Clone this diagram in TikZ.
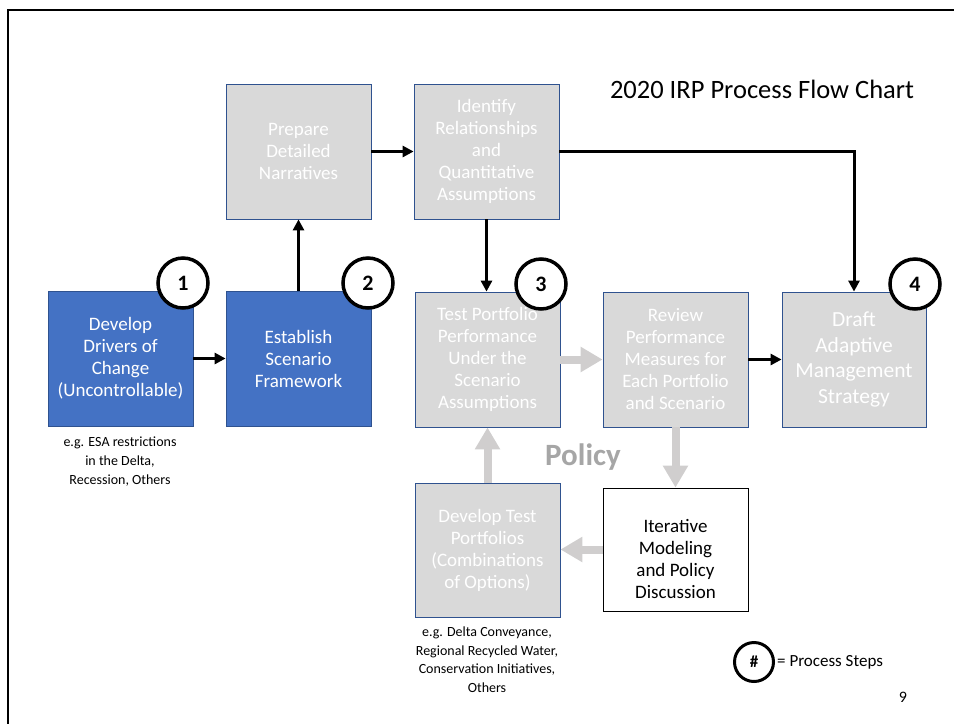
\documentclass[tikz,border=0pt]{standalone}
\usepackage{fontspec}
\setmainfont{Carlito}
\usetikzlibrary{arrows.meta}
\definecolor{boxblue}{HTML}{4472C4}
\definecolor{boxedge}{HTML}{2F528F}
\definecolor{boxgray}{HTML}{D9D9D9}
\definecolor{flowgray}{HTML}{D0CECE}
\definecolor{policygray}{HTML}{A6A6A6}
\begin{document}
\begin{tikzpicture}[x=1pt,y=-1pt,
  stepbox/.style={draw=boxedge, line width=0.8pt, minimum width=145pt, minimum height=135pt, align=center, inner sep=2pt, font=\fontsize{19}{22}\selectfont},
  bluebox/.style={stepbox, fill=boxblue, text=white},
  graybox/.style={stepbox, fill=boxgray, text=white},
  stepnum/.style={circle, draw, line width=3.5pt, fill=white, minimum size=50pt, inner sep=0pt, font=\bfseries\fontsize{22}{22}\selectfont},
  notetext/.style={align=center, font=\fontsize{14}{19}\selectfont},
  flow/.style={line width=3pt, -{Triangle[length=11pt,width=11pt]}},
  grayflow/.style={draw=flowgray, line width=8pt, -{Triangle[length=22pt,width=24pt]}}]
\useasboundingbox (0,0) rectangle (954,724);
\draw[line width=2pt] (954,10) -- (8,10) -- (8,724);

\node[font=\fontsize{26.5}{30}\selectfont] (title) at (762,89) {2020 IRP Process Flow Chart};

\node[bluebox] (drivers) at (120.5,358.5) {Develop\\Drivers of\\Change\\(Uncontrollable)};
\node[bluebox] (framework) at (298.5,358.5) {Establish\\Scenario\\Framework};
\node[graybox] (narratives) at (298.5,151.5) {Prepare\\Detailed\\Narratives};
\node[graybox] (relations) at (486.5,151.5) {Identify\\Relationships\\and\\Quantitative\\Assumptions};
\node[graybox] (testing) at (487.5,359.5) {Test Portfolio\\Performance\\Under the\\Scenario\\Assumptions};
\node[graybox] (review) at (675.5,359.5) {Review\\Performance\\Measures for\\Each Portfolio\\and Scenario};
\node[graybox, minimum width=144pt, font=\fontsize{21.5}{25.5}\selectfont] (strategy) at (854,359.5) {Draft\\Adaptive\\Management\\Strategy};
\node[graybox, minimum height=134pt] (portfolios) at (487.5,550) {Develop Test\\Portfolios\\(Combinations\\of Options)};
\node[stepbox, draw=black, fill=white, minimum height=123pt] (modeling) at (675.5,549.5) {};
\node[align=center, font=\fontsize{19}{22}\selectfont] (modelingtext) at (675.5,559) {Iterative\\Modeling\\and Policy\\Discussion};

\node[notetext] (drivernote) at (120,462) {e.g. ESA restrictions\\in the Delta,\\Recession, Others};
\node[notetext, font=\fontsize{14}{18.5}\selectfont] (portnote) at (487,659.5) {e.g. Delta Conveyance,\\Regional Recycled Water,\\Conservation Initiatives,\\Others};
\node[font=\bfseries\fontsize{31}{33}\selectfont, text=policygray] (policy) at (583,457) {Policy};

\draw[flow] (drivers) -- (framework);
\draw[flow] (framework) -- (narratives);
\draw[flow] (narratives) -- (relations);
\draw[flow] (relations.south) -- (relations.south |- testing.north);
\draw[flow] (relations.east) -| (strategy.north);
\draw[flow] (review) -- (strategy);

\draw[grayflow] (testing) -- (review);
\draw[grayflow] (review) -- (modeling);
\draw[grayflow] (modeling.west) -- (modeling.west -| portfolios.east);
\draw[grayflow] (portfolios) -- (testing);

\node[stepnum] (step1) at (183,283) {1};
\node[stepnum] (step2) at (368,283) {2};
\node[stepnum] (step3) at (541,284) {3};
\node[stepnum] (step4) at (915,284) {4};

\node[stepnum, minimum size=39pt, line width=3pt, font=\bfseries\fontsize{17}{17}\selectfont] (key) at (754,662) {\#};
\node[anchor=west, inner sep=0pt, font=\fontsize{17}{19}\selectfont] (keytext) at (777,662) {= Process Steps};
\node[font=\fontsize{16}{18}\selectfont] (page) at (903,697) {9};
\end{tikzpicture}
\end{document}
